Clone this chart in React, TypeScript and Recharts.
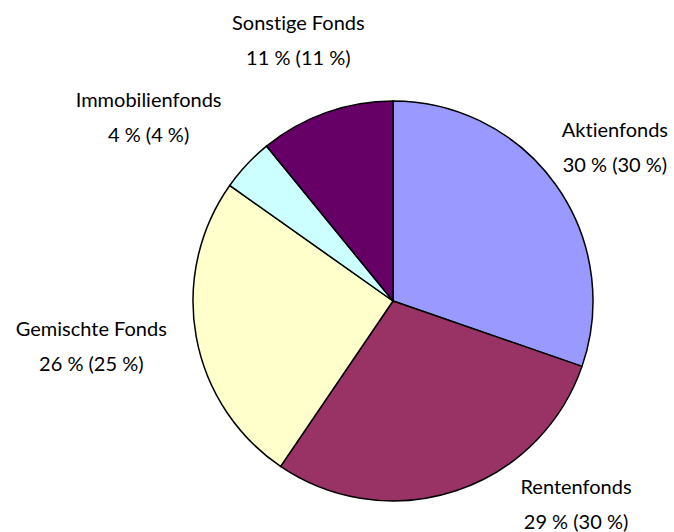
import React from "react";
import { PieChart, Pie, Cell } from "recharts";

const categories = ["Aktienfonds", "Rentenfonds", "Gemischte Fonds", "Immobilienfonds", "Sonstige Fonds"];
const shares = [30.3, 29.2, 25.3, 4.3, 10.9];
const shownPct = [30, 29, 26, 4, 11];
const priorPct = [30, 30, 25, 4, 11];
const colors = ["#9999FF", "#993366", "#FFFFCC", "#CCFFFF", "#660066"];

// label placement tweaks (layout only)
const LABEL_RING = 270;
const LABEL_NUDGE: [number, number][] = [
  [2, 2],
  [98, -54],
  [-36, -4],
  [-47, 0],
  [-4, -7],
];
const LINE_GAP = 35;
const FONT_SIZE = 20;

const data = categories.map((name, i) => ({
  name,
  value: shares[i],
  label: `${shownPct[i]} % (${priorPct[i]} %)`,
}));

const RADIAN = Math.PI / 180;

const renderLabel = (props: any) => {
  const { cx, cy, midAngle, index } = props;
  const x = cx + LABEL_RING * Math.cos(-midAngle * RADIAN) + LABEL_NUDGE[index][0];
  const y = cy + LABEL_RING * Math.sin(-midAngle * RADIAN) + LABEL_NUDGE[index][1];
  const style = { fontVariantLigatures: "none" as const };
  return (
    <g>
      <text x={x} y={y - LINE_GAP / 2} textAnchor="middle" dominantBaseline="central" fill="#000" fontSize={FONT_SIZE} fontFamily="Lato" style={style}>
        {data[index].name}
      </text>
      <text x={x} y={y + LINE_GAP / 2} textAnchor="middle" dominantBaseline="central" fill="#000" fontSize={FONT_SIZE} fontFamily="Lato" style={style}>
        {data[index].label}
      </text>
    </g>
  );
};

export default function App() {
  return (
    <div style={{ position: "absolute", left: 0, top: 0, width: 674, height: 532, background: "#fff" }}>
      <PieChart width={674} height={532} margin={{ top: 0, right: 0, bottom: 0, left: 0 }}>
        <Pie
          data={data}
          dataKey="value"
          nameKey="name"
          cx={393}
          cy={301}
          outerRadius={200}
          startAngle={90}
          endAngle={-270}
          stroke="#000"
          strokeWidth={1.5}
          label={renderLabel}
          labelLine={false}
          isAnimationActive={false}
        >
          {data.map((d, i) => (
            <Cell key={d.name} fill={colors[i]} />
          ))}
        </Pie>
      </PieChart>
    </div>
  );
}
